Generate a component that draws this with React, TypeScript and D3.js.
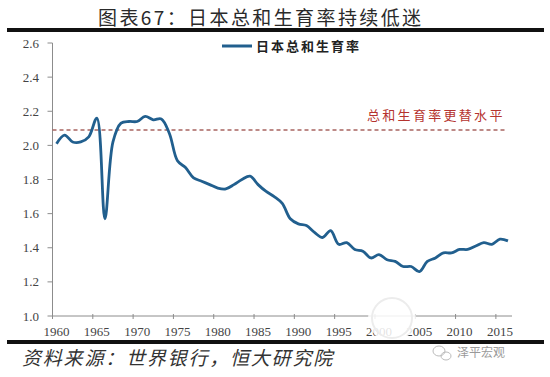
import React from "react";
import * as d3 from "d3";

const years: number[] = d3.range(1960, 2017);
const tfr: number[] = [
  2.01, 2.06, 2.02, 2.02, 2.05, 2.16, 1.57, 2.02, 2.13, 2.14,
  2.14, 2.17, 2.15, 2.155, 2.07, 1.91, 1.87, 1.81, 1.79, 1.77,
  1.75, 1.745, 1.77, 1.80, 1.82, 1.77, 1.73, 1.70, 1.66, 1.57,
  1.54, 1.53, 1.49, 1.46, 1.50, 1.42, 1.43, 1.39, 1.38, 1.34,
  1.36, 1.33, 1.32, 1.29, 1.29, 1.26, 1.32, 1.34, 1.37, 1.37,
  1.39, 1.39, 1.41, 1.43, 1.42, 1.45, 1.44,
];
const replacementLevel = 2.09;
const yTicks: number[] = [1.0, 1.2, 1.4, 1.6, 1.8, 2.0, 2.2, 2.4, 2.6];
const xTickYears: number[] = [1960, 1965, 1970, 1975, 1980, 1985, 1990, 1995, 2000, 2005, 2010, 2015];

const titleText = "图表67：日本总和生育率持续低迷";
const legendText = "日本总和生育率";
const refText = "总和生育率更替水平";
const sourceText = "资料来源：世界银行，恒大研究院";
const markText = "泽平宏观";

export default function App() {
  const W = 550, H = 377;
  const x0 = 52.5, x1 = 512;
  const x = d3.scaleBand<number>().domain(years).range([x0, x1]).padding(0);
  const y = d3.scaleLinear().domain([1.0, 2.6]).range([316, 43]);
  const cx = (yr: number) => (x(yr) as number) + x.bandwidth() / 2;

  const line = d3
    .line<number>()
    .x((_, i) => cx(years[i]))
    .y((d) => y(d))
    .curve(d3.curveCatmullRom.alpha(0.5));

  const serif = "'Liberation Serif', 'DejaVu Serif', serif";
  const cjk = "'Noto Sans CJK SC', sans-serif";
  const axisColor = "#8c8c8c";
  const lineColor = "#215f8e";

  return (
    <svg
      width={W}
      height={H}
      style={{ position: "absolute", left: 0, top: 0, background: "#fff" }}
    >
      <rect x={0} y={0} width={W} height={H} fill="#fff" />
      {/* title */}
      <text
        x={98}
        y={25}
        fontFamily={cjk}
        fontSize={19}
        letterSpacing={2.4}
        fill="#2a2a2a"
      >
        {titleText}
      </text>
      <rect x={7} y={28} width={537} height={4} fill="#111" />

      {/* y axis */}
      <line x1={x0} x2={x0} y1={y(2.6)} y2={y(1.0)} stroke={axisColor} strokeWidth={1} />
      {yTicks.map((t) => (
        <g key={t}>
          <line x1={x0 - 5} x2={x0} y1={y(t)} y2={y(t)} stroke={axisColor} />
          <text
            x={39}
            y={y(t)}
            dy="0.35em"
            textAnchor="end"
            fontFamily={serif}
            fontSize={13}
            fill="#444"
          >
            {t.toFixed(1)}
          </text>
        </g>
      ))}

      {/* x axis */}
      <line x1={x0} x2={x1} y1={y(1.0)} y2={y(1.0)} stroke={axisColor} strokeWidth={1} />
      {xTickYears.map((yr) => (
        <g key={yr}>
          <line
            x1={x(yr) as number}
            x2={x(yr) as number}
            y1={y(1.0) - 2}
            y2={y(1.0) + 3}
            stroke={axisColor}
          />
          <text
            x={cx(yr)}
            y={336}
            textAnchor="middle"
            fontFamily={serif}
            fontSize={13}
            fill="#444"
          >
            {yr}
          </text>
        </g>
      ))}

      {/* replacement level */}
      <line
        x1={x0}
        x2={507}
        y1={y(replacementLevel)}
        y2={y(replacementLevel)}
        stroke="#a86460"
        strokeWidth={1.3}
        strokeDasharray="4,3"
      />
      <text
        x={367}
        y={120}
        fontFamily={cjk}
        fontSize={13}
        letterSpacing={2.3}
        fill="#b5332e"
      >
        {refText}
      </text>

      {/* data line */}
      <path d={line(tfr) || ""} fill="none" stroke={lineColor} strokeWidth={2.8} strokeLinejoin="round" />

      {/* legend */}
      <line x1={222} x2={252} y1={46} y2={46} stroke={lineColor} strokeWidth={3} />
      <text
        x={256}
        y={46}
        dy="0.35em"
        fontFamily={cjk}
        fontSize={13}
        fontWeight={600}
        letterSpacing={2}
        fill="#222"
      >
        {legendText}
      </text>

      {/* faint watermark circle */}
      <circle cx={392} cy={318} r={24} fill="#fff" opacity={0.85} />
      <circle cx={392} cy={318} r={20} fill="none" stroke="#ececec" strokeWidth={2} />

      {/* bottom bar */}
      <rect x={7} y={340} width={537} height={4} fill="#111" />

      {/* source */}
      <text
        x={22}
        y={365}
        fontFamily={cjk}
        fontSize={19}
        fontStyle="italic"
        letterSpacing={1.8}
        fill="#333"
      >
        {sourceText}
      </text>

      {/* wechat mark */}
      <g fill="none" stroke="#bbb" strokeWidth={1}>
        <ellipse cx={439} cy={351} rx={6} ry={5} />
        <ellipse cx={446} cy={356} rx={5} ry={4} />
      </g>
      <text x={457} y={357} fontFamily={cjk} fontSize={12} fill="#9a9a9a">
        {markText}
      </text>
    </svg>
  );
}
